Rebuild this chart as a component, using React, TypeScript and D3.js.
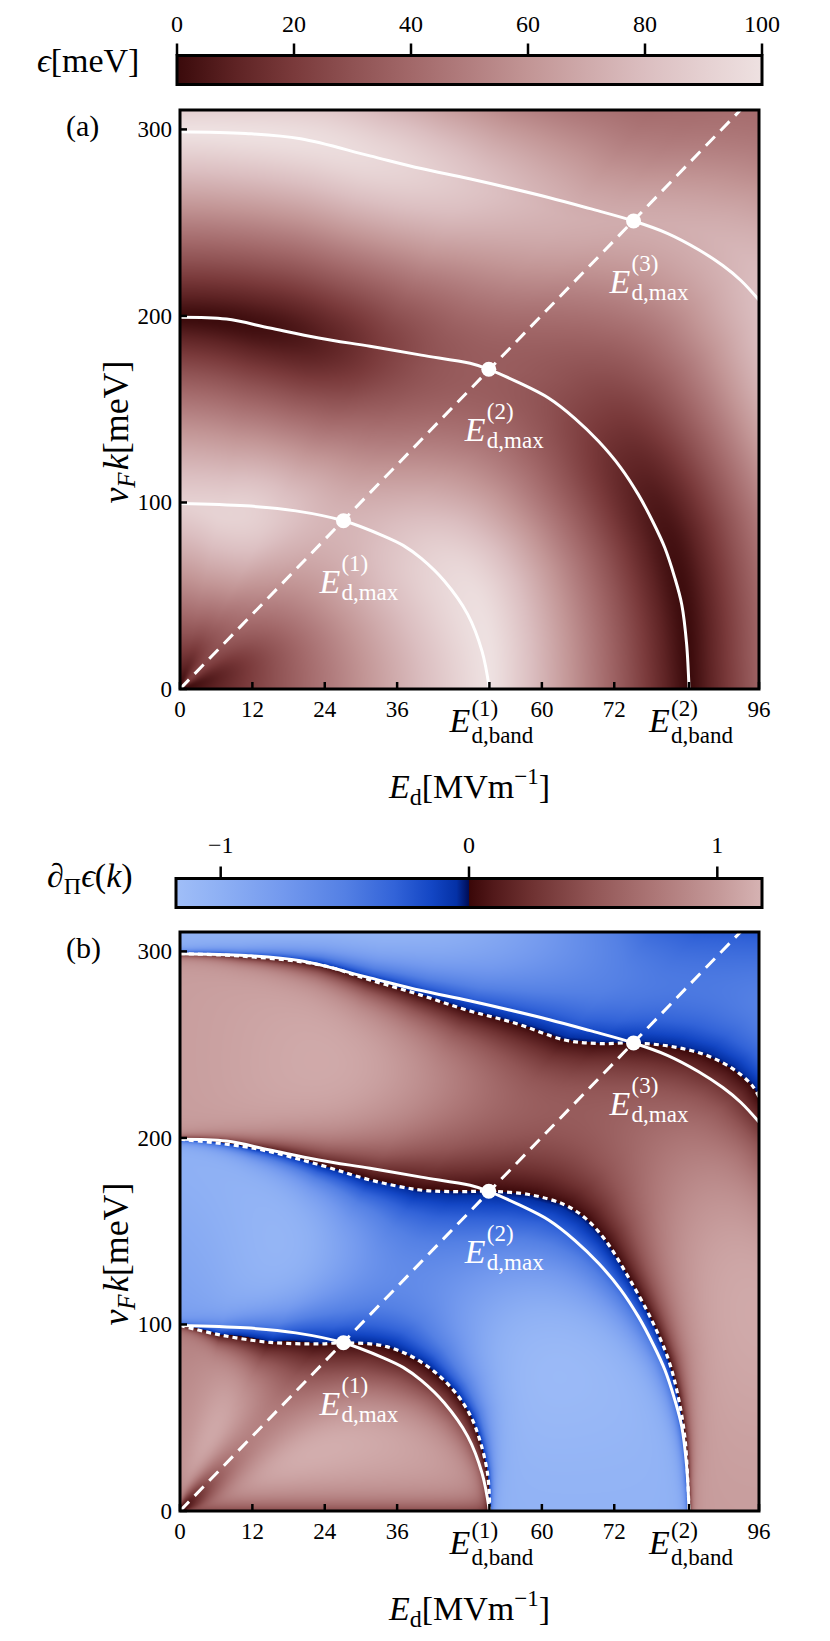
import React, { useMemo } from "react";
import * as d3 from "d3";

// ---------------- data ----------------
const E_DOMAIN = [0, 96];
const K_DOMAIN = [0, 310.4];
const xTickValues = [0, 12, 24, 36, 60, 72, 96];
const yTickValues = [0, 100, 200, 300];
const bandFields = [51.3, 84.4];
const bandLabels = ["(1)", "(2)"];
const epsTickValues = [0, 20, 40, 60, 80, 100];
const epsDomain = [0, 100];
const derivTickValues = [-1, 0, 1];
const derivDomain = [-1.18, 1.18];
const diagonalSlope = 3.34;

// white contour lines (E_d, v_F k)
const contour1 = [[0, 99.5], [10.9, 98.2], [19.2, 95.5], [27.1, 90.2], [33.8, 82], [37, 77], [40, 70], [43.8, 58], [47.7, 40], [50.1, 20], [51.3, 0]];
const contour2 = [[0, 199.3], [7.7, 198.3], [14.9, 193.5], [23, 188.2], [31.5, 183.7], [40, 179], [48.1, 174.6], [51.2, 171.4], [56, 164.5], [61.1, 156], [65.5, 145], [69.4, 132.8], [73, 119], [76, 104.2], [78.5, 89], [80.4, 75.6], [82, 60], [83.2, 45.2], [84, 24], [84.4, 0]];
const contour3 = [[0, 298.8], [10.9, 297.8], [20, 295], [31.5, 285.8], [40, 279], [48, 273.5], [61.1, 263.5], [68, 257.5], [75.2, 250.9], [80.8, 244.3], [86, 235.5], [90, 227], [93, 219], [96, 208.5]];
// dotted lines: zeros of the derivative
const zeroLine1 = [[0, 99.5], [6.6, 94.4], [14.9, 90.4], [23.2, 89.6], [27.1, 90.2], [34.3, 88.1], [40.3, 79.2], [45.3, 64.9], [48.1, 51.5], [49.7, 38.1], [50.9, 22], [51.3, 8], [51.3, 0]];
const zeroLine2 = [[0, 199.3], [12.2, 194.5], [23.2, 185.5], [31.5, 177.5], [39.8, 172.1], [46, 171.2], [51.2, 171.4], [58.3, 169.4], [63.8, 164.1], [67.2, 157], [70.5, 145.3], [74.3, 125.6], [78.2, 102.4], [81, 81], [82.6, 61.3], [83.7, 39.8], [84.2, 16], [84.4, 0]];
const zeroLine3 = [[0, 298.8], [10, 297.5], [23.2, 292.8], [31.5, 284.7], [39.8, 276.7], [47.7, 268.4], [55.6, 261.5], [63.8, 252.5], [69.4, 250.6], [75.2, 250.9], [81.5, 249], [87.1, 244.5], [91.5, 237.4], [94.8, 228.4], [96, 222]];
const maxPoints = [[27.1, 90.2], [51.2, 171.4], [75.2, 250.9]];
const maxLabels = ["(1)", "(2)", "(3)"];

// shading
const diagLevels = [0, 100, 200, 300, 400];
const diagAmplitude = [0.6, 0.5, 0.3, 0.42, 0.15];
const leftEdgeAmplitude = [1, 0.8, 1, 1, 1];
const diagSmoothness = 0.5;
const diagWidth = 0.32;
const leftWidth = 0.45;
const edgeDarkening = 0.6;
const edgeWidth = 7;

// colour maps
const epsStopValues = [0, 10, 20, 30, 40, 50, 60, 70, 80, 90, 100];
const epsStopColors = ["#3a0a0b", "#5e2324", "#7a3a3b", "#8f5253", "#a26869", "#b27e7f", "#c29595", "#cfaaab", "#dbbec0", "#e5d0d1", "#eee1e1"];
const blueStopValues = [0, 0.05, 0.15, 0.3, 0.5, 0.75, 1, 1.18];
const blueStopColors = ["#000c55", "#0431a6", "#1346c4", "#3263d8", "#5480e4", "#7399ee", "#8eb0f4", "#a0bef8"];
const redStopValues = [0, 0.1, 0.25, 0.5, 0.75, 1, 1.18];
const redStopColors = ["#3a0708", "#52191a", "#6e3131", "#925656", "#ad7777", "#c49898", "#d6b3b3"];

// ---------------- layout ----------------
const W = 830, H = 1641;
const PL = 180, PR = 759, PT = 110, PB = 689;
const SHIFT = 822;
const FONT = "'Liberation Serif', 'Times New Roman', serif";

const xScale = d3.scaleLinear().domain(E_DOMAIN).range([PL, PR]);
const yScaleA = d3.scaleLinear().domain(K_DOMAIN).range([PB, PT]);
const yScaleB = d3.scaleLinear().domain(K_DOMAIN).range([PB + SHIFT, PT + SHIFT]);
const epsBar = d3.scaleLinear().domain(epsDomain).range([177, 762]);
const derivBar = d3.scaleLinear().domain(derivDomain).range([176, 762]);

const epsColor = d3.scaleLinear<string>().domain(epsStopValues).range(epsStopColors).interpolate(d3.interpolateRgb).clamp(true);
const blueColor = d3.scaleLinear<string>().domain(blueStopValues).range(blueStopColors).interpolate(d3.interpolateRgb).clamp(true);
const redColor = d3.scaleLinear<string>().domain(redStopValues).range(redStopColors).interpolate(d3.interpolateRgb).clamp(true);

function buildImages() {
  const NW = Math.round(PR - PL), NH = Math.round(PB - PT);
  const polar = (pts: number[][]) => {
    const p = pts
      .map(([e, k]) => {
        const u = e / E_DOMAIN[1], v = k / K_DOMAIN[1];
        return [Math.atan2(v, u), Math.hypot(u, v)];
      })
      .sort((a, b) => a[0] - b[0]);
    return { th0: p[0][0], f: d3.scaleLinear().domain(p.map((d) => d[0])).range(p.map((d) => d[1])).clamp(true) };
  };
  const z1 = polar(zeroLine1), z2 = polar(zeroLine2), z3 = polar(zeroLine3);
  const NT = 2048;
  const R1 = new Float64Array(NT), R2 = new Float64Array(NT), R3 = new Float64Array(NT), R4 = new Float64Array(NT);
  const t0 = z3.th0;
  const c3 = (z3.f(t0) - z2.f(t0)) / (z2.f(t0) - z1.f(t0));
  for (let t = 0; t < NT; t++) {
    const th = (t / (NT - 1)) * (Math.PI / 2);
    const r1 = z1.f(th), r2 = z2.f(th);
    const r3 = th >= t0 ? z3.f(th) : r2 + c3 * (r2 - r1);
    R1[t] = r1; R2[t] = r2; R3[t] = r3; R4[t] = r3 + (r3 - r2);
  }
  const ampScale = d3.scaleLinear().domain(diagLevels).range(diagAmplitude).clamp(true);
  const leftScale = d3.scaleLinear().domain(diagLevels).range(leftEdgeAmplitude).clamp(true);
  const thd = Math.atan((diagonalSlope * E_DOMAIN[1]) / K_DOMAIN[1]);

  const lutN = 1000;
  const toRgb = (c: string) => { const q = d3.rgb(c); return [q.r, q.g, q.b]; };
  const epsLut = d3.range(lutN + 1).map((i) => toRgb(epsColor((i / lutN) * 100)));
  const blueLut = d3.range(lutN + 1).map((i) => toRgb(blueColor((i / lutN) * 1.18)));
  const redLut = d3.range(lutN + 1).map((i) => toRgb(redColor((i / lutN) * 1.18)));

  const cA = document.createElement("canvas");
  const cB = document.createElement("canvas");
  cA.width = cB.width = NW; cA.height = cB.height = NH;
  const ctxA = cA.getContext("2d")!, ctxB = cB.getContext("2d")!;
  const imA = ctxA.createImageData(NW, NH), imB = ctxB.createImageData(NW, NH);

  for (let j = 0; j < NH; j++) {
    for (let i = 0; i < NW; i++) {
      const u = (i + 0.5) / NW, v = (NH - j - 0.5) / NH;
      const r = Math.hypot(u, v), th = Math.atan2(v, u);
      const t = Math.min(NT - 1, Math.max(0, Math.round((th / (Math.PI / 2)) * (NT - 1))));
      const r1 = R1[t], r2 = R2[t], r3 = R3[t], r4 = R4[t];
      let psi;
      if (r < r1) psi = (100 * r) / r1;
      else if (r < r2) psi = 100 + (100 * (r - r1)) / (r2 - r1);
      else if (r < r3) psi = 200 + (100 * (r - r2)) / (r3 - r2);
      else if (r < r4) psi = 300 + (100 * (r - r3)) / (r4 - r3);
      else psi = 400 + (100 * (r - r4)) / (r4 - r3);
      const wd = Math.exp(-Math.pow((th - thd) / diagWidth, 2));
      const wl = Math.exp(-Math.pow((Math.PI / 2 - th) / leftWidth, 2));
      const A0 = 1 - (1 - leftScale(psi)) * wl;
      const A = A0 - (A0 - ampScale(psi)) * wd;
      const a = 0.999 - (0.999 - diagSmoothness) * wd;
      const x = (Math.PI * psi) / 100, c = Math.cos(x), s = Math.sin(x);
      const as = Math.asin(a);
      const eps = 50 - (50 * A * Math.asin(a * c)) / as;
      let der = ((Math.PI / 2) * A * a * s) / (as * Math.sqrt(Math.max(1e-9, 1 - a * a * c * c)));
      if (psi < 100) {
        const kVal = v * K_DOMAIN[1];
        der *= 1 - edgeDarkening * Math.exp(-kVal / edgeWidth);
      }
      const p = (j * NW + i) * 4;
      const ca = epsLut[Math.max(0, Math.min(lutN, Math.round((eps / 100) * lutN)))];
      imA.data[p] = ca[0]; imA.data[p + 1] = ca[1]; imA.data[p + 2] = ca[2]; imA.data[p + 3] = 255;
      const idx = Math.max(0, Math.min(lutN, Math.round((Math.abs(der) / 1.18) * lutN)));
      const cb = der < 0 ? blueLut[idx] : redLut[idx];
      imB.data[p] = cb[0]; imB.data[p + 1] = cb[1]; imB.data[p + 2] = cb[2]; imB.data[p + 3] = 255;
    }
  }
  ctxA.putImageData(imA, 0, 0);
  ctxB.putImageData(imB, 0, 0);
  return { a: cA.toDataURL(), b: cB.toDataURL() };
}

const lineGen = (ys: d3.ScaleLinear<number, number>) =>
  d3.line<number[]>().x((d) => xScale(d[0])).y((d) => ys(d[1])).curve(d3.curveCatmullRom.alpha(0.5));

function Panel({ kind, img }: { kind: "a" | "b"; img: string }) {
  const off = kind === "a" ? 0 : SHIFT;
  const ys = kind === "a" ? yScaleA : yScaleB;
  const line = lineGen(ys);
  const clipId = "clip-" + kind;
  const diagEnd = K_DOMAIN[1] / diagonalSlope;
  return (
    <g>
      <defs>
        <clipPath id={clipId}>
          <rect x={PL} y={PT + off} width={PR - PL} height={PB - PT} />
        </clipPath>
      </defs>
      <image href={img} x={PL} y={PT + off} width={PR - PL} height={PB - PT} preserveAspectRatio="none" />
      <g clipPath={`url(#${clipId})`} fill="none">
        {[contour1, contour2, contour3].map((c, i) => (
          <path key={"c" + i} d={line(c) || ""} stroke="#fff" strokeWidth={3} />
        ))}
        {kind === "b" &&
          [zeroLine1, zeroLine2, zeroLine3].map((c, i) => (
            <path key={"z" + i} d={line(c) || ""} stroke="#fff" strokeWidth={3.2} strokeDasharray="5 4" />
          ))}
        <line x1={xScale(0)} y1={ys(0)} x2={xScale(diagEnd)} y2={ys(K_DOMAIN[1])} stroke="#fff" strokeWidth={3} strokeDasharray="13 8" />
      </g>
      {maxPoints.map((p, i) => {
        const cx = xScale(p[0]), cy = ys(p[1]);
        const left = cx - 24;
        return (
          <g key={"m" + i} fill="#fff" fontFamily={FONT}>
            <circle cx={cx} cy={cy} r={7.5} />
            <text x={left} y={cy + 72} fontSize={34} fontStyle="italic">E</text>
            <text x={left + 22} y={cy + 50} fontSize={23}>{maxLabels[i]}</text>
            <text x={left + 22} y={cy + 79} fontSize={23}>d,max</text>
          </g>
        );
      })}
      <rect x={PL} y={PT + off} width={PR - PL} height={PB - PT} fill="none" stroke="#000" strokeWidth={3} />
      {[...xTickValues, ...bandFields].map((t, i) => (
        <line key={"xt" + i} x1={xScale(t)} x2={xScale(t)} y1={PB + off} y2={PB + off - 7} stroke="#000" strokeWidth={2.5} />
      ))}
      {yTickValues.map((t, i) => (
        <line key={"yt" + i} x1={PL} x2={PL + 7} y1={ys(t)} y2={ys(t)} stroke="#000" strokeWidth={2.5} />
      ))}
      <g fontFamily={FONT} fill="#000">
        {xTickValues.map((t, i) => (
          <text key={"xl" + i} x={xScale(t)} y={717 + off} fontSize={23} textAnchor="middle">{t}</text>
        ))}
        {yTickValues.map((t, i) => (
          <text key={"yl" + i} x={172} y={ys(t) + 8} fontSize={23} textAnchor="end">{t}</text>
        ))}
        {bandFields.map((b, i) => {
          const left = xScale(b) - 40;
          return (
            <g key={"bl" + i}>
              <text x={left} y={732 + off} fontSize={34} fontStyle="italic">E</text>
              <text x={left + 22} y={716 + off} fontSize={23}>{bandLabels[i]}</text>
              <text x={left + 22} y={743 + off} fontSize={23}>d,band</text>
            </g>
          );
        })}
        <text x={(PL + PR) / 2} y={798 + off} fontSize={34} textAnchor="middle">
          <tspan fontStyle="italic">E</tspan>
          <tspan fontSize={24} dy={7}>d</tspan>
          <tspan dy={-7}>[MVm</tspan>
          <tspan fontSize={23} dy={-14}>−1</tspan>
          <tspan dy={14}>]</tspan>
        </text>
        <text transform={`translate(128,${432 + off}) rotate(-90)`} fontSize={36} textAnchor="middle">
          <tspan fontStyle="italic">v</tspan>
          <tspan fontStyle="italic" fontSize={25} dy={7}>F</tspan>
          <tspan fontStyle="italic" dy={-7} dx={2}>k</tspan>
          <tspan>[meV]</tspan>
        </text>
        <text x={66} y={136 + off} fontSize={30}>({kind})</text>
      </g>
    </g>
  );
}

function EpsColorbar() {
  const top = 55.5, bot = 84.5;
  return (
    <g fontFamily={FONT}>
      <defs>
        <linearGradient id="gradEps" x1="0" x2="1" y1="0" y2="0">
          {epsStopValues.map((v, i) => (
            <stop key={i} offset={(v - epsDomain[0]) / (epsDomain[1] - epsDomain[0])} stopColor={epsStopColors[i]} />
          ))}
        </linearGradient>
      </defs>
      <rect x={epsBar(0)} y={top} width={epsBar(100) - epsBar(0)} height={bot - top} fill="url(#gradEps)" stroke="#000" strokeWidth={3} />
      {epsTickValues.map((t, i) => (
        <g key={i}>
          <line x1={epsBar(t)} x2={epsBar(t)} y1={top} y2={top - 12} stroke="#000" strokeWidth={2.5} />
          <text x={epsBar(t)} y={32} fontSize={24} textAnchor="middle">{t}</text>
        </g>
      ))}
      <text x={37} y={72} fontSize={34}>
        <tspan fontStyle="italic">ϵ</tspan>[meV]
      </text>
    </g>
  );
}

function DerivColorbar() {
  const top = 878.5, bot = 907.5;
  const span = derivDomain[1] - derivDomain[0];
  const stops: { o: number; c: string }[] = [];
  [...blueStopValues].reverse().forEach((v, i) => {
    stops.push({ o: (-v - derivDomain[0]) / span, c: blueStopColors[blueStopValues.length - 1 - i] });
  });
  redStopValues.forEach((v, i) => stops.push({ o: (v - derivDomain[0]) / span, c: redStopColors[i] }));
  return (
    <g fontFamily={FONT}>
      <defs>
        <linearGradient id="gradDer" x1="0" x2="1" y1="0" y2="0">
          {stops.map((s, i) => (
            <stop key={i} offset={s.o} stopColor={s.c} />
          ))}
        </linearGradient>
      </defs>
      <rect x={derivBar(derivDomain[0])} y={top} width={derivBar(derivDomain[1]) - derivBar(derivDomain[0])} height={bot - top} fill="url(#gradDer)" stroke="#000" strokeWidth={3} />
      {derivTickValues.map((t, i) => (
        <g key={i}>
          <line x1={derivBar(t)} x2={derivBar(t)} y1={top} y2={top - 12} stroke="#000" strokeWidth={2.5} />
          <text x={derivBar(t)} y={853} fontSize={24} textAnchor="middle">{t < 0 ? "−" + Math.abs(t) : t}</text>
        </g>
      ))}
      <text x={47} y={887} fontSize={34}>
        <tspan>∂</tspan>
        <tspan fontSize={24} dy={7}>Π</tspan>
        <tspan fontStyle="italic" dy={-7}>ϵ</tspan>
        <tspan>(</tspan>
        <tspan fontStyle="italic">k</tspan>
        <tspan>)</tspan>
      </text>
    </g>
  );
}

export default function App() {
  const imgs = useMemo(() => buildImages(), []);
  return (
    <svg width={W} height={H} viewBox={`0 0 ${W} ${H}`} style={{ position: "absolute", left: 0, top: 0, display: "block", background: "#fff" }}>
      <rect x={0} y={0} width={W} height={H} fill="#fff" />
      <EpsColorbar />
      <Panel kind="a" img={imgs.a} />
      <DerivColorbar />
      <Panel kind="b" img={imgs.b} />
    </svg>
  );
}
